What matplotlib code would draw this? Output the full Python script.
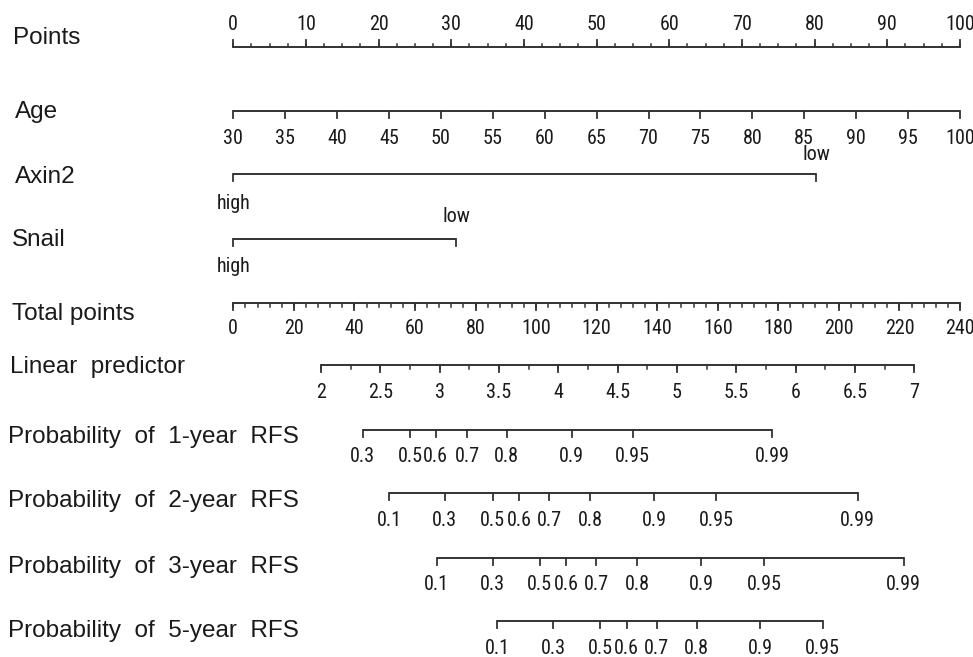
import numpy as np
import matplotlib
matplotlib.use('Agg')
import matplotlib.pyplot as plt
from matplotlib.transforms import blended_transform_factory

# nomogram values, positions given on the "Points" (0-100) or "Total points" (0-240) scale
points_ticks = list(range(0, 101, 10))
points_minor = list(np.arange(0, 100.1, 2.5))

age_ticks = list(range(30, 101, 5))
age_range = [30, 100]          # age 30 -> 0 points, age 100 -> 100 points

axin2_labels = ['high', 'low']
axin2_points = [0, 80.2]

snail_labels = ['high', 'low']
snail_points = [0, 30.7]

total_ticks = list(range(0, 241, 20))
total_minor = list(range(0, 241, 4))

lp_ticks = [2, 2.5, 3, 3.5, 4, 4.5, 5, 5.5, 6, 6.5, 7]
lp_minor = list(np.arange(2, 7.01, 0.25))
lp_ends = [2, 7]
lp_ends_total = [29.0, 224.9]

prob_labels_1y = ['0.3', '0.5', '0.6', '0.7', '0.8', '0.9', '0.95', '0.99']
prob_total_1y = [42.7, 58.5, 66.8, 77.3, 90.3, 111.7, 131.9, 178.0]

prob_labels_2y = ['0.1', '0.3', '0.5', '0.6', '0.7', '0.8', '0.9', '0.95', '0.99']
prob_total_2y = [51.5, 69.8, 85.7, 94.5, 104.4, 117.8, 139.0, 159.4, 206.2]

prob_labels_3y = ['0.1', '0.3', '0.5', '0.6', '0.7', '0.8', '0.9', '0.95', '0.99']
prob_total_3y = [67.2, 85.7, 101.2, 110.0, 119.9, 133.3, 154.6, 175.4, 221.4]

prob_labels_5y = ['0.1', '0.3', '0.5', '0.6', '0.7', '0.8', '0.9', '0.95']
prob_total_5y = [87.2, 105.6, 121.1, 129.9, 139.8, 153.0, 174.1, 194.6]

row_names = ['Points', 'Age', 'Axin2', 'Snail', 'Total points', 'Linear  predictor',
             'Probability  of  1-year  RFS', 'Probability  of  2-year  RFS',
             'Probability  of  3-year  RFS', 'Probability  of  5-year  RFS']

# layout (pixels)
W, H = 973, 657
x0_px, x100_px = 233.3, 960.0
name_x = [13, 15, 15, 12, 12, 10, 8, 8, 8, 8]
name_base = [43.5, 118, 183, 246.5, 320, 373, 443, 506.5, 573, 637]
line_y = [47, 110.5, 173.5, 239, 303, 365, 429.5, 493, 557.5, 620.5]

LINE = '#333333'
TXT = '#1a1a1a'
NARROW = ['Roboto Condensed', 'DejaVu Sans']
tick_fs = 14.5
name_fs = 17.5
major_len = 7
minor_len = 3.5

px_per_pt = (x100_px - x0_px) / 100
fig = plt.figure(figsize=(W / 100, H / 100), dpi=100)
ax = fig.add_axes([0, 0, 1, 1])
ax.set_xlim(-x0_px / px_per_pt, (W - x0_px) / px_per_pt)
ax.set_ylim(H, 0)
ax.axis('off')


def tot2pts(v):
    return np.asarray(v, dtype=float) * 100 / 240


def draw_scale(y, pos, labels, minor=None, side='below', lab_off=27, lab_pos=None):
    pos = np.asarray(pos, dtype=float)
    sgn = 1 if side == 'below' else -1
    ax.plot([pos.min(), pos.max()], [y, y], color=LINE, lw=1.4, solid_capstyle='butt')
    if minor is not None:
        for m in minor:
            ax.plot([m, m], [y, y + sgn * minor_len], color=LINE, lw=1.1)
    for p in pos:
        ax.plot([p, p], [y, y + sgn * major_len], color=LINE, lw=1.3)
    for i, (p, lab) in enumerate(zip(pos, labels)):
        yy = y + sgn * lab_off if lab_pos is None else lab_pos[i]
        ax.text(p, yy, lab, ha='center', va='center', fontsize=tick_fs,
                family=NARROW, color=TXT)


# row names
tr = blended_transform_factory(ax.transAxes, ax.transData)
for nm, nx, nb in zip(row_names, name_x, name_base):
    ax.text(nx / W, nb, nm, transform=tr, ha='left', va='baseline',
            fontsize=name_fs, family=['Liberation Sans', 'DejaVu Sans'], color=TXT)

# Points
draw_scale(line_y[0], points_ticks, [str(t) for t in points_ticks],
           minor=points_minor, side='above', lab_off=23)

# Age
age_pts = np.interp(age_ticks, age_range, [0, 100])
draw_scale(line_y[1], age_pts, [str(a) for a in age_ticks], lab_off=28)

# Axin2: high below, low above
draw_scale(line_y[2], axin2_points, axin2_labels,
           lab_pos=[line_y[2] + 30, line_y[2] - 19])

# Snail
draw_scale(line_y[3], snail_points, snail_labels,
           lab_pos=[line_y[3] + 28, line_y[3] - 23])

# Total points
draw_scale(line_y[4], tot2pts(total_ticks), [str(t) for t in total_ticks],
           minor=tot2pts(total_minor), lab_off=25)

# Linear predictor
lp_pos = tot2pts(np.interp(lp_ticks, lp_ends, lp_ends_total))
lp_min = tot2pts(np.interp(lp_minor, lp_ends, lp_ends_total))
draw_scale(line_y[5], lp_pos, [f'{v:g}' for v in lp_ticks], minor=lp_min, lab_off=28)

# survival probabilities
for row, labs, tot in [(6, prob_labels_1y, prob_total_1y),
                       (7, prob_labels_2y, prob_total_2y),
                       (8, prob_labels_3y, prob_total_3y),
                       (9, prob_labels_5y, prob_total_5y)]:
    draw_scale(line_y[row], tot2pts(tot), labs, lab_off=27.5)

fig.savefig('out.png', dpi=100, facecolor='white')
